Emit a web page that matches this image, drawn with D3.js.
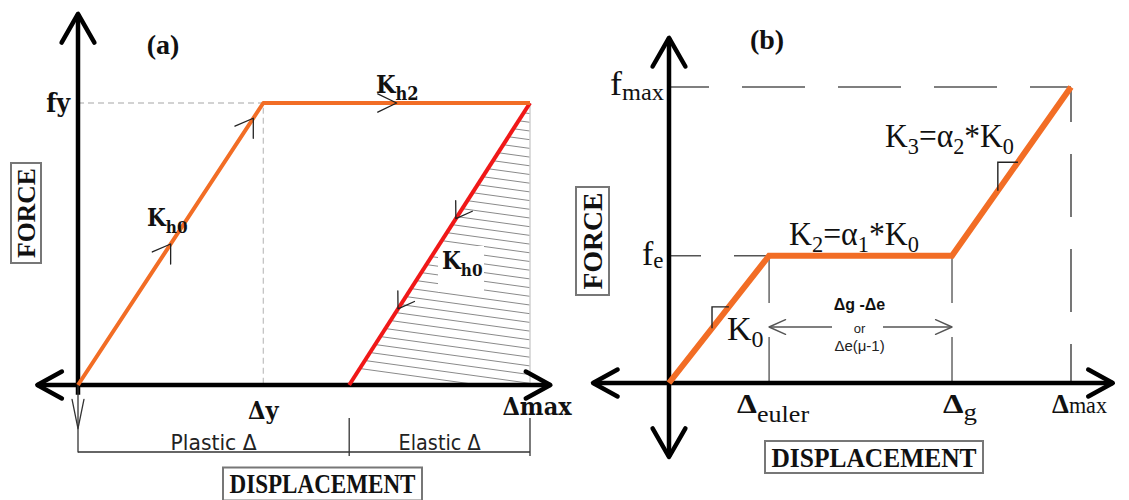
<!DOCTYPE html>
<html>
<head>
<meta charset="utf-8">
<script src="https://cdn.jsdelivr.net/npm/d3@7"></script>
<style>
  body { margin: 0; background: #fff; }
  svg { display: block; }
  .slab { font-family: 'DejaVu Serif Condensed', 'DejaVu Serif', serif; font-weight: bold; fill: #111; }
  .times { font-family: 'Liberation Serif', 'Times New Roman', serif; fill: #111; }
  .plot { font-family: 'Liberation Sans Narrow', 'DejaVu Sans Condensed', sans-serif; fill: #222; }
</style>
</head>
<body>
<svg id="chart" width="1129" height="500"></svg>
<script>
// Panel (a) - bilinear loop, force normalised to fy
const dispA = [0, 4.1, 10];          // origin, Δy, Δmax
const forceA = [0, 1, 1];
const unloadDispA = [10, 6.0];       // Δmax back to residual displacement
const unloadForceA = [1, 0];
const tickLabelsA = ['Δy', 'Δmax'];
const spanLabelsA = ['Plastic Δ', 'Elastic Δ'];

// Panel (b) - trilinear backbone, force normalised to fmax
const dispB = [0, 2.49, 7.04, 10];   // origin, Δeuler, Δg, Δmax
const forceB = [0, 0.43, 0.43, 1];
const tickLabelsB = [['Δ', 'euler'], ['Δ', 'g'], ['Δ', 'max']];
const forceLabelsB = [['f', 'e'], ['f', 'max']];

// axis extents, in data units
const axisA = { x: [-0.9, 10.45], y: [-0.25, 1.316] };
const axisB = { x: [-1.89, 11.04], y: [-0.25, 1.166] };

const ORANGE = '#f26d25';
const RED = '#f01818';

const svg = d3.select('#chart');
svg.append('rect').attr('width', 1129).attr('height', 500).attr('fill', '#fff');

const xA = d3.scaleLinear().domain([0, 10]).range([78, 530]);
const yA = d3.scaleLinear().domain([0, 1]).range([385, 103]);
const xB = d3.scaleLinear().domain([0, 10]).range([669, 1071]);
const yB = d3.scaleLinear().domain([0, 1]).range([383, 87]);

// open arrow head "<" with tip at x,y pointing along ang
function chevron(g, x, y, ang, len, spread, color, w) {
  const a1 = ang + Math.PI - spread, a2 = ang + Math.PI + spread;
  g.append('path')
    .attr('d', `M${x + len * Math.cos(a1)},${y + len * Math.sin(a1)}L${x},${y}L${x + len * Math.cos(a2)},${y + len * Math.sin(a2)}`)
    .attr('fill', 'none').attr('stroke', color).attr('stroke-width', w)
    .attr('stroke-linecap', 'round').attr('stroke-linejoin', 'round');
}

// point at fraction t along a segment, plus its direction
function along(p0, p1, t) {
  return { x: p0[0] + (p1[0] - p0[0]) * t, y: p0[1] + (p1[1] - p0[1]) * t,
           ang: Math.atan2(p1[1] - p0[1], p1[0] - p0[0]) };
}

function subLabel(g, cls, x, y, main, sub, size, subSize, anchor, dy) {
  const t = g.append('text').attr('class', cls).attr('x', x).attr('y', y)
    .attr('font-size', size).attr('text-anchor', anchor || 'start');
  t.append('tspan').text(main);
  t.append('tspan').attr('font-size', subSize).attr('dy', dy).text(sub);
  return t;
}

// squeeze a label horizontally to a given width (keeps glyph height)
function fitWidth(g, x, y, width) {
  const inner = g.select('text');
  const w = inner.node().getComputedTextLength();
  g.attr('transform', `translate(${x},${y}) scale(${width / w},1)`);
}

// w runs along the text, h across it
function boxedLabel(g, cx, cy, w, h, text, size, len, rotate) {
  const b = g.append('g').attr('transform', `translate(${cx},${cy}) rotate(${rotate || 0})`);
  b.append('rect').attr('x', -w / 2).attr('y', -h / 2).attr('width', w).attr('height', h)
    .attr('fill', '#fff').attr('stroke', '#777').attr('stroke-width', 2);
  b.append('text').attr('class', 'times').attr('font-weight', 'bold')
    .attr('font-size', size).attr('text-anchor', 'middle').attr('y', size * 0.34)
    .attr('textLength', len).attr('lengthAdjust', 'spacingAndGlyphs').text(text);
}

/* ---------------- Panel (a) ---------------- */
const gA = svg.append('g');

// hatched elastic zone
const tri = [[xA(unloadDispA[1]), yA(0)], [xA(unloadDispA[0]), yA(unloadForceA[0])], [xA(unloadDispA[0]), yA(0)]];
svg.append('defs').append('clipPath').attr('id', 'hatchClip')
  .append('polygon').attr('points', tri.map(p => p.join(',')).join(' '));
const hatch = gA.append('g').attr('clip-path', 'url(#hatchClip)');
d3.range(yA(1.05), yA(-0.05), 8.7).forEach(y0 => {
  hatch.append('line').attr('x1', 330).attr('y1', y0 - 29).attr('x2', 540).attr('y2', y0)
    .attr('stroke', '#8a8a8a').attr('stroke-width', 1);
});
// gap in the hatching round the label
gA.append('rect').attr('x', 438).attr('y', 246).attr('width', 46).attr('height', 46).attr('fill', '#fff');
gA.append('line').attr('x1', xA(10)).attr('x2', xA(10)).attr('y1', yA(1)).attr('y2', yA(0))
  .attr('stroke', '#cfcfcf').attr('stroke-width', 1.5);

// guide lines to fy / Δy
gA.append('path')
  .attr('d', `M${xA(0)},${yA(1)}H${xA(dispA[1])}V${yA(0)}`)
  .attr('fill', 'none').attr('stroke', '#c4c4c4').attr('stroke-width', 1.3).attr('stroke-dasharray', '6,4');

// axes
gA.append('line').attr('x1', xA(axisA.x[0])).attr('x2', xA(axisA.x[1])).attr('y1', yA(0)).attr('y2', yA(0))
  .attr('stroke', '#000').attr('stroke-width', 4.5);
gA.append('line').attr('x1', xA(0)).attr('x2', xA(0)).attr('y1', yA(axisA.y[1])).attr('y2', yA(-0.035))
  .attr('stroke', '#000').attr('stroke-width', 4.5);
chevron(gA, xA(axisA.x[1]), yA(0), 0, 28, 0.5, '#000', 4.5);
chevron(gA, xA(axisA.x[0]), yA(0), Math.PI, 28, 0.5, '#000', 4.5);
chevron(gA, xA(0), yA(axisA.y[1]), -Math.PI / 2, 33, 0.52, '#000', 4.5);
// thin extension down to the dimension line
gA.append('line').attr('x1', xA(0)).attr('x2', xA(0)).attr('y1', yA(0)).attr('y2', yA(axisA.y[0]) - 3)
  .attr('stroke', '#333').attr('stroke-width', 1.3);
chevron(gA, xA(0), yA(-0.155), Math.PI / 2, 30, 0.2, '#333', 1.3);

// loading path and unloading branch
const lineA = d3.line().x(d => xA(d[0])).y(d => yA(d[1]));
const loadPts = dispA.map((d, i) => [d, forceA[i]]);
const unloadPts = unloadDispA.map((d, i) => [d, unloadForceA[i]]);
gA.append('path').attr('d', lineA(unloadPts)).attr('fill', 'none')
  .attr('stroke', RED).attr('stroke-width', 4);
gA.append('path').attr('d', lineA(loadPts)).attr('fill', 'none')
  .attr('stroke', ORANGE).attr('stroke-width', 4).attr('stroke-linejoin', 'round');

// direction markers
const px = pts => pts.map(p => [xA(p[0]), yA(p[1])]);
const lp = px(loadPts), up = px(unloadPts);
[[lp[0], lp[1], 0.5], [lp[0], lp[1], 0.946]].forEach(([a, b, t]) => {
  const p = along(a, b, t); chevron(gA, p.x, p.y, p.ang, 20, 0.58, '#222', 1.3);
});
{ const p = along(lp[1], lp[2], 0.5); chevron(gA, p.x, p.y, p.ang, 21, 0.45, '#222', 1.3); }
[0.41, 0.73].forEach(t => {
  const p = along(up[0], up[1], t); chevron(gA, p.x, p.y, p.ang, 18, 0.58, '#222', 1.3);
});

// labels
gA.append('text').attr('class', 'times').attr('font-weight', 'bold').attr('font-size', 28)
  .attr('x', 163).attr('y', 54).attr('text-anchor', 'middle').text('(a)');
gA.append('text').attr('class', 'slab').attr('font-size', 26).attr('x', xA(0) - 8).attr('y', yA(1) + 9)
  .attr('text-anchor', 'end').text('fy');
subLabel(gA, 'slab', 147, 226, 'K', 'h0', 24, 17, 'start', 7);
subLabel(gA, 'slab', 376, 93, 'K', 'h2', 25, 18, 'start', 7);
subLabel(gA, 'slab', 442, 269, 'K', 'h0', 24, 17, 'start', 7);
gA.append('text').attr('class', 'slab').attr('font-size', 25).attr('x', xA(dispA[1])).attr('y', 419)
  .attr('text-anchor', 'middle').text(tickLabelsA[0]);
gA.append('text').attr('class', 'slab').attr('font-size', 25).attr('x', xA(dispA[2]) + 7).attr('y', 415)
  .attr('text-anchor', 'middle').text(tickLabelsA[1]);

// plastic / elastic dimension line
const dimY = 452;
gA.append('line').attr('x1', xA(0)).attr('x2', xA(10)).attr('y1', dimY).attr('y2', dimY)
  .attr('stroke', '#333').attr('stroke-width', 1.3);
[unloadDispA[1], unloadDispA[0]].forEach(d => {
  gA.append('line').attr('x1', xA(d)).attr('x2', xA(d)).attr('y1', dimY - 34).attr('y2', dimY + 4)
    .attr('stroke', '#333').attr('stroke-width', 1.3);
});
const spans = [[0, unloadDispA[1]], [unloadDispA[1], 10]];
spans.forEach((s, i) => {
  gA.append('text').attr('class', 'plot').attr('font-size', 22)
    .attr('x', (xA(s[0]) + xA(s[1])) / 2).attr('y', dimY - 2).attr('text-anchor', 'middle')
    .attr('textLength', i === 0 ? 86 : 82).attr('lengthAdjust', 'spacingAndGlyphs')
    .text(spanLabelsA[i]);
});

boxedLabel(gA, 26, 213, 100, 30, 'FORCE', 25, 90, -90);
boxedLabel(gA, 322.5, 484, 199, 33, 'DISPLACEMENT', 27, 186, 0);

/* ---------------- Panel (b) ---------------- */
const gB = svg.append('g');

// dashed guides to fmax
gB.append('path')
  .attr('d', `M${xB(0)},${yB(1)}H${xB(10)}`)
  .attr('fill', 'none').attr('stroke', '#555').attr('stroke-width', 1.6).attr('stroke-dasharray', '40,33,63,33,63,33,63,33,63,33,63,33,63,33');
gB.append('path')
  .attr('d', `M${xB(10)},${yB(1)}V${yB(0)}`)
  .attr('fill', 'none').attr('stroke', '#555').attr('stroke-width', 1.6).attr('stroke-dasharray', '0,2,33,32,63,32,63,32,63,32');
// dashed guide to fe
gB.append('path')
  .attr('d', `M${xB(0)},${yB(forceB[1])}H${xB(dispB[1])}`)
  .attr('fill', 'none').attr('stroke', '#555').attr('stroke-width', 1.6).attr('stroke-dasharray', '32,33,40');

// verticals at Δeuler and Δg with a gap for the span arrow
const spanY = 327;
[dispB[1], dispB[2]].forEach(d => {
  gB.append('line').attr('x1', xB(d)).attr('x2', xB(d)).attr('y1', yB(forceB[1])).attr('y2', spanY - 24)
    .attr('stroke', '#666').attr('stroke-width', 1.5);
  gB.append('line').attr('x1', xB(d)).attr('x2', xB(d)).attr('y1', spanY + 10).attr('y2', yB(0))
    .attr('stroke', '#666').attr('stroke-width', 1.5);
});
gB.append('line').attr('x1', xB(dispB[1])).attr('x2', 832).attr('y1', spanY).attr('y2', spanY)
  .attr('stroke', '#555').attr('stroke-width', 1.4);
gB.append('line').attr('x1', 883).attr('x2', xB(dispB[2])).attr('y1', spanY).attr('y2', spanY)
  .attr('stroke', '#555').attr('stroke-width', 1.4);
chevron(gB, xB(dispB[1]), spanY, Math.PI, 18, 0.42, '#555', 1.4);
chevron(gB, xB(dispB[2]), spanY, 0, 18, 0.42, '#555', 1.4);
const midB = (xB(dispB[1]) + xB(dispB[2])) / 2;
gB.append('text').attr('font-family', 'Arial, Liberation Sans, sans-serif').attr('font-weight', 'bold')
  .attr('font-size', 16).attr('x', midB - 1).attr('y', 310).attr('text-anchor', 'middle').attr('fill', '#111').text('Δg -Δe');
gB.append('text').attr('font-family', 'Arial, Liberation Sans, sans-serif')
  .attr('font-size', 13).attr('x', midB - 1).attr('y', 333).attr('text-anchor', 'middle').attr('fill', '#222').text('or');
gB.append('text').attr('font-family', 'Arial, Liberation Sans, sans-serif')
  .attr('font-size', 15).attr('x', midB - 1).attr('y', 351).attr('text-anchor', 'middle').attr('fill', '#222').text('Δe(μ-1)');

// axes
gB.append('line').attr('x1', xB(axisB.x[0])).attr('x2', xB(axisB.x[1])).attr('y1', yB(0)).attr('y2', yB(0))
  .attr('stroke', '#000').attr('stroke-width', 4.5);
gB.append('line').attr('x1', xB(0)).attr('x2', xB(0)).attr('y1', yB(axisB.y[1])).attr('y2', yB(axisB.y[0]))
  .attr('stroke', '#000').attr('stroke-width', 4.5);
chevron(gB, xB(axisB.x[1]), yB(0), 0, 28, 0.5, '#000', 4.5);
chevron(gB, xB(axisB.x[0]), yB(0), Math.PI, 28, 0.5, '#000', 4.5);
chevron(gB, xB(0), yB(axisB.y[1]), -Math.PI / 2, 33, 0.52, '#000', 4.5);
chevron(gB, xB(0), yB(axisB.y[0]), Math.PI / 2, 33, 0.52, '#000', 4.5);

// backbone
const lineB = d3.line().x(d => xB(d[0])).y(d => yB(d[1]));
const ptsB = dispB.map((d, i) => [d, forceB[i]]);
gB.append('path').attr('d', lineB(ptsB)).attr('fill', 'none')
  .attr('stroke', ORANGE).attr('stroke-width', 6).attr('stroke-linejoin', 'miter');

// slope triangles on K0 and K3 branches
function slopeMark(seg, d1, d2) {
  const f = d => seg[0][1] + (seg[1][1] - seg[0][1]) * (d - seg[0][0]) / (seg[1][0] - seg[0][0]);
  gB.append('path')
    .attr('d', `M${xB(d1)},${yB(f(d1))}V${yB(f(d2))}H${xB(d2)}`)
    .attr('fill', 'none').attr('stroke', '#222').attr('stroke-width', 1.4);
}
slopeMark([ptsB[0], ptsB[1]], 1.07, 1.49);
slopeMark([ptsB[2], ptsB[3]], 8.18, 8.68);

// labels
gB.append('text').attr('class', 'times').attr('font-weight', 'bold').attr('font-size', 28)
  .attr('x', 767).attr('y', 49).attr('text-anchor', 'middle').text('(b)');

const fmaxG = gB.append('g');
subLabel(fmaxG, 'times', 0, 0, forceLabelsB[1][0], forceLabelsB[1][1], 34, 23, 'start', 5);
fitWidth(fmaxG, xB(0) - 59, yB(1) + 8, 54);
subLabel(gB, 'times', xB(0) - 27, yB(forceB[1]) + 9, forceLabelsB[0][0], forceLabelsB[0][1], 34, 23, 'start', 3);

function kLabel(x, y, k, a, len) {
  const g = gB.append('g');
  const t = g.append('text').attr('class', 'times').attr('font-size', 34);
  t.append('tspan').text('K');
  t.append('tspan').attr('font-size', 24).attr('dy', 7).text(k);
  t.append('tspan').attr('dy', -7).text('=α');
  t.append('tspan').attr('font-size', 24).attr('dy', 7).text(a);
  t.append('tspan').attr('dy', -7).text('*K');
  t.append('tspan').attr('font-size', 24).attr('dy', 7).text('0');
  fitWidth(g, x, y, len);
}
kLabel(885, 147, '3', '2', 129);
kLabel(789, 245, '2', '1', 130);
subLabel(gB, 'times', 727, 340, 'K', '0', 34, 24, 'start', 7);

tickLabelsB.forEach((l, i) => {
  const g = gB.append('g');
  const t = subLabel(g, 'times', 0, 0, l[0], l[1], 28, 23, 'start', [9, 7, 0][i]);
  t.select('tspan').attr('font-weight', 'bold');
  fitWidth(g, xB(dispB[i + 1]) - [32, 9, 19][i], 413, [72, 34, 55][i]);
});

boxedLabel(gB, 592.5, 241, 108, 33, 'FORCE', 27, 97, -90);
boxedLabel(gB, 874, 457, 218, 32, 'DISPLACEMENT', 28, 205, 0);
</script>
</body>
</html>
